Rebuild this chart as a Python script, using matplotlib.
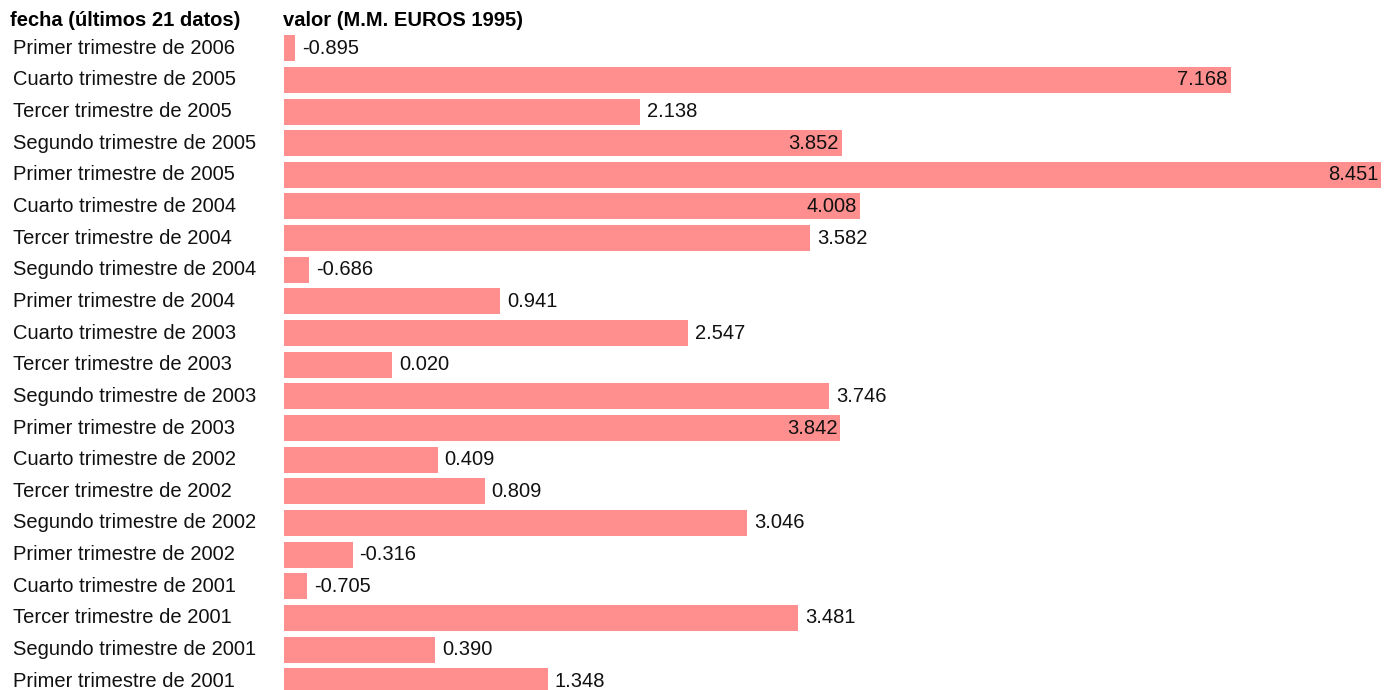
import numpy as np
import matplotlib.pyplot as plt

plt.rcParams['font.family'] = ['Liberation Sans', 'DejaVu Sans']

# rows from top to bottom, as in the table
periodos = [
    'Primer trimestre de 2006', 'Cuarto trimestre de 2005', 'Tercer trimestre de 2005',
    'Segundo trimestre de 2005', 'Primer trimestre de 2005', 'Cuarto trimestre de 2004',
    'Tercer trimestre de 2004', 'Segundo trimestre de 2004', 'Primer trimestre de 2004',
    'Cuarto trimestre de 2003', 'Tercer trimestre de 2003', 'Segundo trimestre de 2003',
    'Primer trimestre de 2003', 'Cuarto trimestre de 2002', 'Tercer trimestre de 2002',
    'Segundo trimestre de 2002', 'Primer trimestre de 2002', 'Cuarto trimestre de 2001',
    'Tercer trimestre de 2001', 'Segundo trimestre de 2001', 'Primer trimestre de 2001',
]
valores = [
    -0.895, 7.168, 2.138, 3.852, 8.451, 4.008, 3.582, -0.686, 0.941, 2.547, 0.020,
    3.746, 3.842, 0.409, 0.809, 3.046, -0.316, -0.705, 3.481, 0.390, 1.348,
]

bar_color = '#ff8f8f'
base = -0.901      # left edge of the value scale
min_w = 0.095      # smallest visible bar
inside_from = 3.8  # labels go inside the bar above this
fs = 14.5

W, H = 1391, 690
fig = plt.figure(figsize=(W / 100, H / 100), dpi=100)

n = len(valores)
top_px, row_px = 32.4, 31.65
bottom_px = top_px + n * row_px
ax = fig.add_axes([284 / W, (H - bottom_px) / H, (1381 - 284) / W, n * row_px / H])

vals = np.array(valores)
ypos = np.arange(n)[::-1]
widths = np.maximum(vals - base, min_w)
ax.barh(ypos, widths, left=base, height=0.82, color=bar_color)
ax.set_xlim(base, vals.max())
ax.set_ylim(-0.5, n - 0.5)
ax.axis('off')

for y, v, w in zip(ypos, vals, widths):
    txt = f'{v:.3f}'
    if v > inside_from:
        ax.annotate(txt, (base + w, y), xytext=(-2, 0), textcoords='offset points',
                    ha='right', va='center', fontsize=fs, color='#111111')
    else:
        ax.annotate(txt, (base + w, y), xytext=(5, 0), textcoords='offset points',
                    ha='left', va='center', fontsize=fs, color='#111111')

for y, lab in zip(ypos, periodos):
    ax.annotate(lab, (0, y), xycoords=('figure fraction', 'data'),
                xytext=(13 * 0.72, 0), textcoords='offset points',
                ha='left', va='center', fontsize=fs, color='#111111')

fig.text(10 / W, 1 - 21 / H, 'fecha (últimos 21 datos)', fontsize=fs, fontweight='bold',
         ha='left', va='center')
fig.text(283 / W, 1 - 21 / H, 'valor (M.M. EUROS 1995)', fontsize=fs, fontweight='bold',
         ha='left', va='center')

fig.savefig('out.png', dpi=100)
